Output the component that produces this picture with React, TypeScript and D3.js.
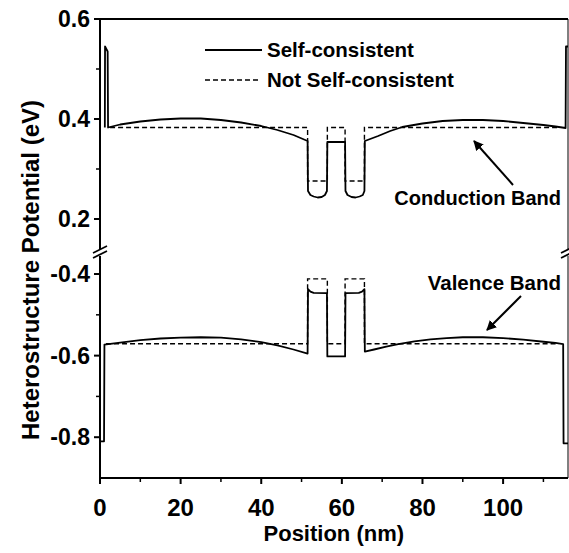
import React from "react";
import * as d3 from "d3";

// ---- data ----
const cbSelfX = [1.2, 1.25, 1.9, 2.0, 5, 10, 15, 20, 25, 30, 35, 40, 44, 48, 51.5, 51.6, 52.2, 53, 54, 55, 55.8, 56.3, 56.4, 60.8, 60.9, 61.4, 62.4, 63.4, 64.4, 65.2, 65.6, 65.7, 69, 72, 75, 80, 85, 90, 95, 100, 105, 110, 113, 115.5, 115.6, 116.1];
const cbSelfY = [0.383, 0.545, 0.535, 0.383, 0.389, 0.395, 0.399, 0.401, 0.401, 0.398, 0.393, 0.386, 0.378, 0.368, 0.356, 0.256, 0.248, 0.245, 0.243, 0.244, 0.248, 0.256, 0.354, 0.354, 0.256, 0.248, 0.244, 0.243, 0.245, 0.248, 0.256, 0.356, 0.366, 0.376, 0.384, 0.391, 0.396, 0.398, 0.398, 0.396, 0.392, 0.388, 0.385, 0.382, 0.545, 0.545];

const cbFlatX = [2.5, 51.5, 51.5, 56.4, 56.4, 60.8, 60.8, 65.6, 65.6, 113.8];
const cbFlatY = [0.383, 0.383, 0.276, 0.276, 0.383, 0.383, 0.276, 0.276, 0.383, 0.383];

const vbSelfX = [0.1, 1.0, 1.1, 5, 10, 15, 20, 25, 30, 35, 40, 44, 48, 51.5, 51.6, 52.2, 53, 56.3, 56.4, 60.8, 60.9, 64.2, 65.0, 65.6, 65.7, 68, 71, 74, 78, 82, 86, 90, 95, 100, 105, 110, 113, 114.9, 115.0, 116.1];
const vbSelfY = [-0.81, -0.81, -0.573, -0.568, -0.562, -0.558, -0.556, -0.555, -0.556, -0.56, -0.567, -0.575, -0.585, -0.595, -0.437, -0.443, -0.446, -0.447, -0.602, -0.602, -0.447, -0.446, -0.443, -0.437, -0.59, -0.585, -0.578, -0.572, -0.565, -0.56, -0.557, -0.555, -0.555, -0.557, -0.561, -0.566, -0.569, -0.572, -0.815, -0.815];

const vbFlatX = [1.5, 51.5, 51.5, 56.4, 56.4, 60.8, 60.8, 65.6, 65.6, 113.8];
const vbFlatY = [-0.571, -0.571, -0.412, -0.412, -0.571, -0.571, -0.412, -0.412, -0.571, -0.571];

const xTicks = [0, 20, 40, 60, 80, 100];
const xMinor = [10, 30, 50, 70, 90, 110];
const yUpperTicks = [0.6, 0.4, 0.2];
const yUpperMinor = [0.5, 0.3];
const yLowerTicks = [-0.4, -0.6, -0.8];
const yLowerMinor = [-0.5, -0.7];

const legendLabels = ["Self-consistent", "Not Self-consistent"];
const annotations = ["Conduction Band", "Valence Band"];

const FONT = "'Liberation Sans', Arial, Helvetica, sans-serif";

export default function App() {
  const W = 569, H = 553;
  const x = d3.scaleLinear().domain([0, 116.1]).range([100, 568]);
  const yU = d3.scaleLinear().domain([0.134, 0.6]).range([252, 19]);
  const yL = d3.scaleLinear().domain([-0.9, -0.346]).range([478, 252]);

  const lineU = d3.line<[number, number]>().x(d => x(d[0])).y(d => yU(d[1]));
  const lineL = d3.line<[number, number]>().x(d => x(d[0])).y(d => yL(d[1]));
  const zip = (a: number[], b: number[]) => a.map((v, i) => [v, b[i]] as [number, number]);

  const left = x(0);
  const bottom = yL(-0.9);
  const top = yU(0.6);
  const right = x(116.1);
  const breakY = 252;

  return (
    <svg width={W} height={H} style={{ position: "absolute", left: 0, top: 0, background: "#fff" }}>
      <rect x={0} y={0} width={W} height={H} fill="#fff" />
      {/* frame */}
      <line x1={left} x2={right} y1={top} y2={top} stroke="#000" strokeWidth={2} />
      <line x1={left} x2={left} y1={top - 1} y2={breakY - 3} stroke="#000" strokeWidth={2} />
      <line x1={left} x2={left} y1={breakY + 4} y2={bottom + 1} stroke="#000" strokeWidth={2} />
      <line x1={left - 1} x2={right} y1={bottom} y2={bottom} stroke="#000" strokeWidth={2} />
      <line x1={right} x2={right} y1={top} y2={breakY - 3} stroke="#000" strokeWidth={1} />
      <line x1={right} x2={right} y1={breakY + 4} y2={bottom} stroke="#000" strokeWidth={1} />
      {/* break marks */}
      {[left, right].map((bx, i) => (
        <g key={i}>
          <line x1={bx - 7} x2={bx + 7} y1={breakY + 1} y2={breakY - 6} stroke="#000" strokeWidth={1.8} />
          <line x1={bx - 7} x2={bx + 7} y1={breakY + 6} y2={breakY - 1} stroke="#000" strokeWidth={1.8} />
        </g>
      ))}
      {/* y ticks */}
      {yUpperTicks.map(t => (
        <g key={"yu" + t}>
          <line x1={left - 6} x2={left} y1={yU(t)} y2={yU(t)} stroke="#000" strokeWidth={2} />
          <text x={left - 10} y={yU(t)} dy="0.36em" textAnchor="end" fontFamily={FONT} fontWeight="bold" fontSize={23}>{t.toFixed(1)}</text>
        </g>
      ))}
      {yUpperMinor.map(t => (
        <line key={"yum" + t} x1={left - 4} x2={left} y1={yU(t)} y2={yU(t)} stroke="#000" strokeWidth={1.5} />
      ))}
      {yLowerTicks.map(t => (
        <g key={"yl" + t}>
          <line x1={left - 6} x2={left} y1={yL(t)} y2={yL(t)} stroke="#000" strokeWidth={2} />
          <text x={left - 10} y={yL(t)} dy="0.36em" textAnchor="end" fontFamily={FONT} fontWeight="bold" fontSize={23}>{t.toFixed(1)}</text>
        </g>
      ))}
      {yLowerMinor.map(t => (
        <line key={"ylm" + t} x1={left - 4} x2={left} y1={yL(t)} y2={yL(t)} stroke="#000" strokeWidth={1.5} />
      ))}
      {/* x ticks */}
      {xTicks.map(t => (
        <g key={"x" + t}>
          <line x1={x(t)} x2={x(t)} y1={bottom} y2={bottom + 6} stroke="#000" strokeWidth={2} />
          <text x={x(t)} y={bottom + 38} textAnchor="middle" fontFamily={FONT} fontWeight="bold" fontSize={24}>{t}</text>
        </g>
      ))}
      {xMinor.map(t => (
        <line key={"xm" + t} x1={x(t)} x2={x(t)} y1={bottom} y2={bottom + 4} stroke="#000" strokeWidth={1.5} />
      ))}
      {/* axis labels */}
      <text x={x(58)} y={541} textAnchor="middle" fontFamily={FONT} fontWeight="bold" fontSize={22}>Position (nm)</text>
      <text transform={`translate(39,${270}) rotate(-90)`} textAnchor="middle" fontFamily={FONT} fontWeight="bold" fontSize={24}>Heterostructure Potential (eV)</text>

      {/* data */}
      <path d={lineU(zip(cbFlatX, cbFlatY)) || ""} fill="none" stroke="#000" strokeWidth={1.4} strokeDasharray="5,3" />
      <path d={lineL(zip(vbFlatX, vbFlatY)) || ""} fill="none" stroke="#000" strokeWidth={1.4} strokeDasharray="5,3" />
      <path d={lineU(zip(cbSelfX, cbSelfY)) || ""} fill="none" stroke="#000" strokeWidth={1.8} strokeLinejoin="round" />
      <path d={lineL(zip(vbSelfX, vbSelfY)) || ""} fill="none" stroke="#000" strokeWidth={1.8} strokeLinejoin="round" />

      {/* legend */}
      <line x1={205} x2={262} y1={50} y2={50} stroke="#000" strokeWidth={1.8} />
      <text x={267} y={57} fontFamily={FONT} fontWeight="bold" fontSize={20.5}>{legendLabels[0]}</text>
      <line x1={205} x2={260} y1={80} y2={80} stroke="#000" strokeWidth={1.4} strokeDasharray="5,3" />
      <text x={267} y={87} fontFamily={FONT} fontWeight="bold" fontSize={20.5}>{legendLabels[1]}</text>

      {/* annotations */}
      <defs>
        <marker id="ah" viewBox="0 0 10 10" refX="9" refY="5" markerWidth="5" markerHeight="5" orient="auto">
          <path d="M0,0 L10,5 L0,10 z" fill="#000" />
        </marker>
      </defs>
      <text x={561} y={205} textAnchor="end" fontFamily={FONT} fontWeight="bold" fontSize={20}>{annotations[0]}</text>
      <line x1={513} x2={474} y1={185} y2={141} stroke="#000" strokeWidth={2} markerEnd="url(#ah)" />
      <text x={561} y={290} textAnchor="end" fontFamily={FONT} fontWeight="bold" fontSize={20.5}>{annotations[1]}</text>
      <line x1={521} x2={487} y1={296} y2={330} stroke="#000" strokeWidth={2} markerEnd="url(#ah)" />
    </svg>
  );
}
